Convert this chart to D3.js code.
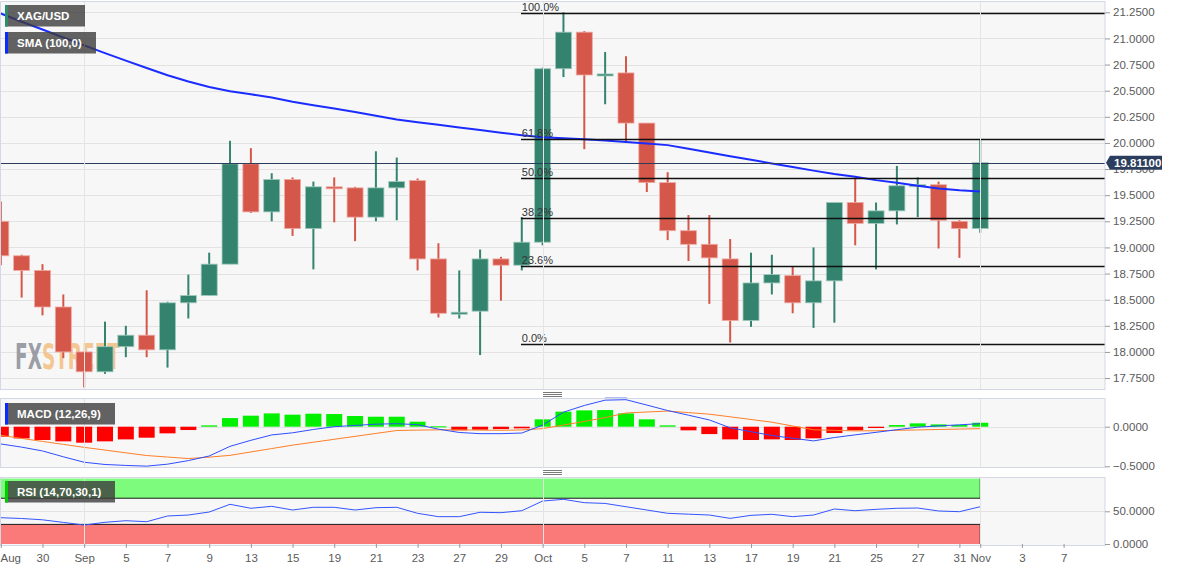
<!DOCTYPE html>
<html><head><meta charset="utf-8">
<script src="https://cdn.jsdelivr.net/npm/d3@7"></script>
<style>body{margin:0;background:#fff;} svg{display:block;} text{font-family:"Liberation Sans",Arial,sans-serif;}</style>
</head><body><svg id="c" width="1182" height="571"></svg>
<script>
// ---------- data ----------
const dates = ["2022-08-26","2022-08-29","2022-08-30","2022-08-31","2022-09-01","2022-09-02","2022-09-05","2022-09-06","2022-09-07","2022-09-08","2022-09-09","2022-09-12","2022-09-13","2022-09-14","2022-09-15","2022-09-16","2022-09-19","2022-09-20","2022-09-21","2022-09-22","2022-09-23","2022-09-26","2022-09-27","2022-09-28","2022-09-29","2022-09-30","2022-10-03","2022-10-04","2022-10-05","2022-10-06","2022-10-07","2022-10-10","2022-10-11","2022-10-12","2022-10-13","2022-10-14","2022-10-17","2022-10-18","2022-10-19","2022-10-20","2022-10-21","2022-10-24","2022-10-25","2022-10-26","2022-10-27","2022-10-28","2022-10-31","2022-11-01"];
const open  = [19.25,18.92,18.78,18.43,18.00,17.81,18.05,18.16,18.02,18.47,18.54,18.84,19.80,19.34,19.65,19.18,19.58,19.57,19.29,19.57,19.64,18.89,18.37,18.39,18.89,18.83,19.05,20.71,21.06,20.65,20.67,20.19,19.62,19.16,19.03,18.89,18.30,18.66,18.73,18.47,18.68,19.43,19.23,19.35,19.59,19.60,19.25,19.18];
const high  = [19.44,18.93,18.84,18.55,18.00,18.29,18.25,18.59,18.48,18.74,18.95,20.02,19.95,19.71,19.67,19.63,19.67,19.58,19.92,19.86,19.66,19.04,18.78,18.98,18.91,19.29,20.72,21.25,21.07,20.87,20.83,20.19,19.72,19.31,19.31,19.08,18.95,18.93,18.82,19.00,19.43,19.67,19.43,19.78,19.67,19.63,19.26,20.03];
const low   = [18.83,18.52,18.35,17.94,17.66,17.79,17.95,17.95,17.85,18.32,18.54,18.84,19.33,19.25,19.11,18.79,19.24,19.06,19.25,19.26,18.78,18.33,18.32,17.97,18.49,18.78,19.02,20.63,19.94,20.37,20.01,19.53,19.07,18.87,18.46,18.09,18.24,18.55,18.37,18.23,18.28,19.02,18.79,19.22,19.29,18.99,18.90,19.14];
const close = [18.92,18.78,18.43,18.00,17.81,18.05,18.16,18.02,18.47,18.54,18.84,19.80,19.34,19.65,19.18,19.58,19.565,19.29,19.57,19.63,18.89,18.37,18.38,18.89,18.83,19.05,20.71,21.06,20.65,20.66,20.19,19.62,19.16,19.03,18.90,18.30,18.66,18.74,18.47,18.68,19.43,19.23,19.35,19.59,19.60,19.26,19.18,19.811];
const sma   = [21.238,21.16,21.085,21.009,20.933,20.859,20.787,20.717,20.648,20.588,20.536,20.495,20.465,20.434,20.394,20.36,20.329,20.296,20.261,20.225,20.198,20.173,20.148,20.123,20.098,20.073,20.055,20.045,20.036,20.024,20.01,19.995,19.979,19.944,19.908,19.873,19.839,19.804,19.769,19.735,19.702,19.677,19.644,19.618,19.591,19.564,19.546,19.535];
const macd  = [-0.218,-0.258,-0.306,-0.38,-0.449,-0.477,-0.489,-0.498,-0.473,-0.428,-0.37,-0.248,-0.172,-0.104,-0.077,-0.035,0.0,0.016,0.032,0.038,0.026,-0.031,-0.073,-0.088,-0.088,-0.08,0.02,0.183,0.268,0.335,0.341,0.273,0.204,0.145,0.085,-0.014,-0.063,-0.111,-0.146,-0.179,-0.137,-0.103,-0.071,-0.038,-0.006,0.01,0.024,0.038];
const signal= [-0.109,-0.148,-0.186,-0.223,-0.261,-0.295,-0.33,-0.364,-0.383,-0.402,-0.384,-0.362,-0.319,-0.276,-0.233,-0.196,-0.159,-0.122,-0.085,-0.048,-0.043,-0.04,-0.039,-0.043,-0.045,-0.041,-0.024,0.021,0.066,0.115,0.173,0.186,0.197,0.178,0.158,0.125,0.091,0.057,0.009,-0.039,-0.046,-0.053,-0.051,-0.046,-0.041,-0.035,-0.03,-0.025];
const hist  = [-0.126,-0.148,-0.168,-0.185,-0.202,-0.185,-0.16,-0.139,-0.084,-0.042,0.017,0.109,0.139,0.168,0.152,0.164,0.16,0.135,0.126,0.126,0.063,0.005,-0.046,-0.038,-0.03,-0.021,0.093,0.19,0.206,0.21,0.168,0.093,0.017,-0.046,-0.093,-0.16,-0.168,-0.16,-0.168,-0.147,-0.08,-0.046,-0.017,0.021,0.042,0.029,0.021,0.05];
const rsi   = [40.2,39,37,33,29,33.2,35.6,34.1,42.8,44.3,48.9,60.7,54.6,57.6,52,56.1,56.1,52,55.5,56.1,46.9,41.8,41.8,48.5,47.9,50.9,65.7,68.3,63.2,62,57,52,46.9,45.6,44.3,39.2,43.8,45.4,41.8,44.3,53.5,50.9,53,54.6,55,50.5,49.4,57];
const priceTicks = [17.75,18.0,18.25,18.5,18.75,19.0,19.25,19.5,19.75,20.0,20.25,20.5,20.75,21.0,21.25];
const macdTicks = [-0.5,0];
const rsiTicks = [0,50];
const xTickIdx = [0,2,4,6,8,10,12,14,16,18,20,22,24,26,28,30,32,34,36,38,40,42,44,46,47,49,51];
const xTickLabels = ["Aug","30","Sep","5","7","9","13","15","19","21","23","27","29","Oct","5","7","11","13","17","19","21","25","27","31","Nov","3","7"];
const monthStartIdx = [4,26,47];
const fibLevels = [0,0.236,0.382,0.5,0.618,1];
const fibLabels = ["0.0%","23.6%","38.2%","50.0%","61.8%","100.0%"];
const fibHigh = 21.245, fibLow = 18.075, fibStartIdx = 25;
const lastPrice = 19.811;

// ---------- layout ----------
const svg = d3.select("#c");
const PR = 1105;
const main = {y0:1, y1:389}, mp = {y0:398, y1:467}, rp = {y0:477, y1:545};
const xs = d3.scaleLinear().domain([0,51]).range([0.8,1063.6]);
const ys = d3.scaleLinear().domain([17.75,21.25]).range([378.05,12.3]);
const ym = d3.scaleLinear().domain([-0.5,0]).range([466.3,426.7]);
const yr = d3.scaleLinear().domain([0,100]).range([544,478.6]);
const GREEN="#33836f", RED="#d4574a";

svg.append("rect").attr("width",1182).attr("height",571).attr("fill","#fff");
const defs = svg.append("defs");
[["cm",main],["cmacd",mp],["crsi",rp]].forEach(([id,p])=>{
  defs.append("clipPath").attr("id",id).append("rect").attr("x",0).attr("y",p.y0).attr("width",PR).attr("height",p.y1-p.y0);
});

function panelBg(p){
  svg.append("rect").attr("x",0.5).attr("y",p.y0+0.5).attr("width",PR-0.5).attr("height",p.y1-p.y0).attr("fill","#f7f7f7");
}
function panelBorder(p){
  svg.append("rect").attr("x",0.5).attr("y",p.y0+0.5).attr("width",PR-0.5).attr("height",p.y1-p.y0).attr("fill","none").attr("stroke","#d3d7e6");
}
function vgrid(p){
  svg.append("g").selectAll("line").data(monthStartIdx).join("line")
    .attr("x1",d=>Math.round(xs(d))+0.5).attr("x2",d=>Math.round(xs(d))+0.5).attr("y1",p.y0).attr("y2",p.y1)
    .attr("stroke","#e4e4e4");
}

// ---------- main panel ----------
panelBg(main);
const gm = svg.append("g").attr("clip-path","url(#cm)");
gm.append("g").selectAll("line").data(priceTicks).join("line")
  .attr("x1",0).attr("x2",PR).attr("y1",d=>Math.round(ys(d))+0.5).attr("y2",d=>Math.round(ys(d))+0.5).attr("stroke","#e2e2e2");
vgrid(main);
// watermark
const wm = gm.append("text").attr("x",15).attr("y",369).attr("font-size",36).attr("font-weight","bold")
  .style("font-family","'Liberation Sans Narrow','DejaVu Sans Condensed',Arial");
wm.append("tspan").attr("fill","#8f929b").attr("fill-opacity",0.9).text("FX");
wm.append("tspan").attr("fill","#f3bd80").attr("fill-opacity",0.85).text("STREET");
wm.attr("textLength",105).attr("lengthAdjust","spacingAndGlyphs");

// candles
const idx = d3.range(dates.length);
const cg = gm.append("g");
cg.selectAll("line").data(idx).join("line")
  .attr("x1",i=>xs(i)).attr("x2",i=>xs(i)).attr("y1",i=>ys(high[i])).attr("y2",i=>ys(low[i]))
  .attr("stroke",i=>close[i]>=open[i]?GREEN:RED).attr("stroke-width",2);
cg.selectAll("rect").data(idx).join("rect")
  .attr("x",i=>xs(i)-8).attr("width",16)
  .attr("y",i=>ys(Math.max(open[i],close[i])))
  .attr("height",i=>Math.max(2,Math.abs(ys(open[i])-ys(close[i]))))
  .attr("fill",i=>close[i]>=open[i]?GREEN:RED)
  .attr("stroke",i=>close[i]>=open[i]?"#9fcabb":"#f0aaa2").attr("stroke-width",0.8);

// SMA
gm.append("path").datum(idx).attr("fill","none").attr("stroke","#1a2cff").attr("stroke-width",2)
  .attr("d",d3.line().x(i=>xs(i)).y(i=>ys(sma[i])));

// fib
const fg = gm.append("g");
fibLevels.forEach((f,k)=>{
  const v = fibLow + f*(fibHigh-fibLow);
  const y = Math.round(ys(v))+0.5;
  fg.append("line").attr("x1",xs(fibStartIdx)-0.8).attr("x2",PR).attr("y1",y).attr("y2",y).attr("stroke","#111").attr("stroke-width",1.3);
  fg.append("text").attr("x",xs(fibStartIdx)).attr("y",y-3).attr("font-size",11).attr("fill","#333").text(fibLabels[k]);
});
// last price line
gm.append("line").attr("x1",0).attr("x2",PR).attr("y1",Math.round(ys(lastPrice))+0.5).attr("y2",Math.round(ys(lastPrice))+0.5)
  .attr("stroke","#2c3d5c").attr("stroke-width",1);

panelBorder(main);

// legend boxes
function legend(x,y,w,h,accent,label,fill){
  const g = svg.append("g");
  g.append("rect").attr("x",x).attr("y",y).attr("width",w).attr("height",h).attr("fill",fill||"#3c3c3c").attr("fill-opacity",0.8);
  g.append("rect").attr("x",x).attr("y",y).attr("width",3).attr("height",h).attr("fill",accent);
  g.append("text").attr("x",x+12).attr("y",y+h/2+4).attr("font-size",11.5).attr("fill","#fff").attr("font-weight","bold").text(label);
}
legend(5,5,80,21.5,"#2e8b6e","XAG/USD");
legend(5,32,91,21.5,"#0a2aff","SMA (100,0)");

// price axis
const ay = svg.append("g").attr("transform",`translate(${PR},0)`)
  .call(d3.axisRight(ys).tickValues(priceTicks).tickFormat(d3.format(".4f")).tickSize(5).tickPadding(3));
function styleAxis(a){
  a.select(".domain").remove();
  a.selectAll(".tick line").attr("stroke","#9a9a9a");
  a.selectAll(".tick text").attr("fill","#5a5a5a").attr("font-size",11.5).style("font-family","'Liberation Sans',Arial");
}
styleAxis(ay);
// price tag
{
  const y = ys(lastPrice);
  const g = svg.append("g");
  g.append("path").attr("d",`M${PR+1},${y} L${PR+5},${y-7} L1162,${y-7} L1162,${y+7} L${PR+5},${y+7} Z`).attr("fill","#2c3e5d");
  g.append("text").attr("x",1114).attr("y",y+4).attr("font-size",11.5).attr("font-weight","bold").attr("fill","#fff").text(lastPrice.toFixed(5));
}

// handles
function handle(y){
  [0,2,4].forEach(d=>svg.append("line").attr("x1",543).attr("x2",562).attr("y1",y+d+0.5).attr("y2",y+d+0.5).attr("stroke","#7a7a7a"));
}
handle(392); handle(470);
svg.append("rect").attr("x",605).attr("y",397).attr("width",22).attr("height",2).attr("fill","#b4bdf2");

// ---------- MACD ----------
panelBg(mp);
const gmc = svg.append("g").attr("clip-path","url(#cmacd)");
gmc.append("line").attr("x1",0).attr("x2",PR).attr("y1",Math.round(ym(0))+0.5).attr("y2",Math.round(ym(0))+0.5).attr("stroke","#e2e2e2");
vgrid(mp);
gmc.selectAll("rect.h").data(idx).join("rect").attr("class","h")
  .attr("x",i=>xs(i)-8).attr("width",16)
  .attr("y",i=>Math.min(ym(0),ym(hist[i]))).attr("height",i=>Math.max(1,Math.abs(ym(hist[i])-ym(0))))
  .attr("fill",i=>hist[i]>=0?"#00f000":"#ff0000");
gmc.append("path").datum(idx).attr("fill","none").attr("stroke","#ff7f27").attr("stroke-width",1)
  .attr("d",d3.line().x(i=>xs(i)).y(i=>ym(signal[i])));
gmc.append("path").datum(idx).attr("fill","none").attr("stroke","#2f4dff").attr("stroke-width",1)
  .attr("d",d3.line().x(i=>xs(i)).y(i=>ym(macd[i])));
panelBorder(mp);
legend(5,403,110,21.5,"#0a2aff","MACD (12,26,9)");
const am = svg.append("g").attr("transform",`translate(${PR},0)`)
  .call(d3.axisRight(ym).tickValues(macdTicks).tickFormat(d3.format(".4f")).tickSize(5).tickPadding(3));
styleAxis(am);

// ---------- RSI ----------
panelBg(rp);
const gr = svg.append("g").attr("clip-path","url(#crsi)");
gr.append("line").attr("x1",0).attr("x2",PR).attr("y1",Math.round(yr(50))+0.5).attr("y2",Math.round(yr(50))+0.5).attr("stroke","#e2e2e2");
vgrid(rp);
const xEnd = xs(dates.length-1);
gr.append("rect").attr("x",0).attr("y",yr(100)).attr("width",xEnd).attr("height",yr(70)-yr(100)).attr("fill","#7cfb7c");
gr.append("path").attr("d",`M0,${yr(70)}H${xEnd}V${yr(100)}`).attr("fill","none").attr("stroke","#1a1a1a");
gr.append("rect").attr("x",0).attr("y",yr(30)).attr("width",xEnd).attr("height",yr(0)-yr(30)).attr("fill","#fa7a7a");
gr.append("path").attr("d",`M0,${yr(30)}H${xEnd}V${yr(0)}`).attr("fill","none").attr("stroke","#1a1a1a");
gr.append("path").datum(idx).attr("fill","none").attr("stroke","#3355ff").attr("stroke-width",1)
  .attr("d",d3.line().x(i=>xs(i)).y(i=>yr(rsi[i])));
panelBorder(rp);
legend(5,481,110,21.5,"#00cc00","RSI (14,70,30,1)");
const ar = svg.append("g").attr("transform",`translate(${PR},0)`)
  .call(d3.axisRight(yr).tickValues(rsiTicks).tickFormat(d3.format(".4f")).tickSize(5).tickPadding(3));
styleAxis(ar);

// ---------- x axis ----------
const ax = svg.append("g").attr("transform",`translate(0,${rp.y1-1})`)
  .call(d3.axisBottom(xs).tickValues(xTickIdx).tickFormat((d,k)=>xTickLabels[k]).tickSize(4).tickPadding(6));
ax.select(".domain").remove();
ax.selectAll(".tick line").attr("stroke","#9a9a9a");
ax.selectAll(".tick text").attr("fill","#5a5a5a").attr("font-size",11.5).style("font-family","'Liberation Sans',Arial");
ax.select(".tick text").attr("text-anchor","start").attr("x",-0.8);
</script></body></html>
